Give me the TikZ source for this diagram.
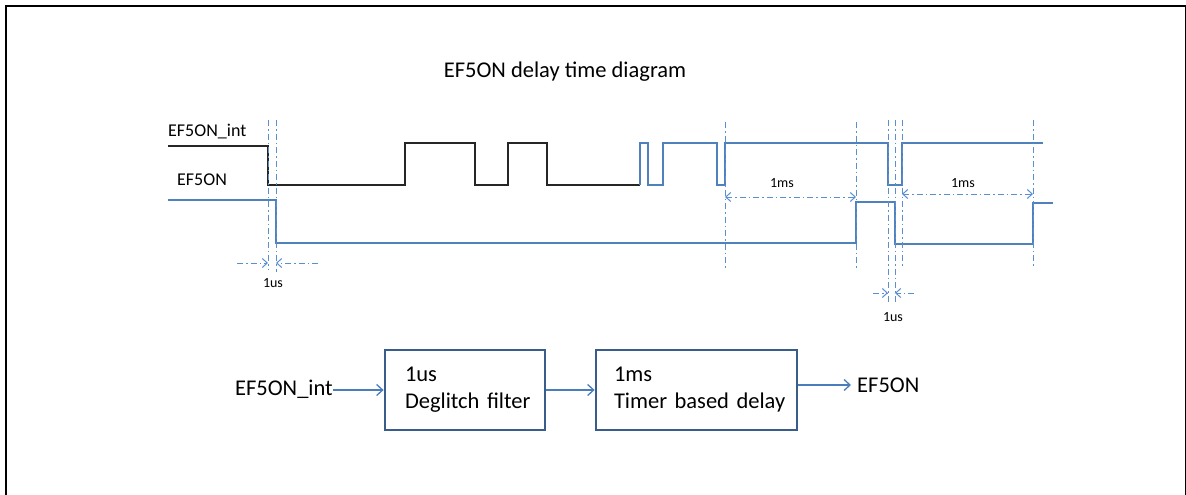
\documentclass[tikz,border=0pt]{standalone}
\usepackage{fontspec}
\setmainfont{Carlito}
\usetikzlibrary{arrows.meta}
\definecolor{sig}{HTML}{4F81BD}
\definecolor{guide}{HTML}{5B8FD0}
\definecolor{boxc}{HTML}{385D8A}
\definecolor{arrc}{HTML}{4A7EBB}
\begin{document}
\begin{tikzpicture}[x=1pt,y=-1pt,
  frameline/.style={line width=2.4pt,black},
  sigblack/.style={line width=1.5pt,black!85},
  sigblue/.style={line width=1.5pt,sig},
  guideline/.style={line width=1pt,guide,dash pattern=on 6pt off 3pt on 1.5pt off 3pt},
  guidearrow/.style={guideline,-{Straight Barb[length=5pt,width=9pt,line width=1pt]}},
  guidearrows/.style={guideline,{Straight Barb[length=5pt,width=9pt,line width=1pt]}-{Straight Barb[length=5pt,width=9pt,line width=1pt]}},
  siglabel/.style={font=\fontsize{18}{21}\selectfont,inner sep=0pt},
  smalllabel/.style={font=\fontsize{14}{16}\selectfont,inner sep=0pt},
  blk/.style={draw=boxc,line width=2.8pt,minimum height=80pt,align=left,
    font=\fontsize{22.5}{27}\selectfont,inner ysep=0pt},
  blktext/.style={font=\fontsize{22.5}{27}\selectfont,inner sep=0pt},
  blkarrow/.style={arrc,line width=1.3pt,-{Straight Barb[length=6pt,width=11pt,line width=1.3pt]}}
]
\useasboundingbox (0,0) rectangle (1186,495);
\fill[white] (0,0) rectangle (1186,495);
% frame
\draw[frameline] (6,495) -- (6,6) -- (1186,6);
\draw[line width=1pt,black] (1185.5,6) -- (1185.5,495);

% title
\node[font=\fontsize{22.5}{27}\selectfont,inner sep=0pt] (title) at (565,72) {EF5ON delay time diagram};

% signal labels
\node[siglabel,anchor=base west] (lint) at (168,136) {EF5ON\_int};
\node[siglabel,anchor=base west] (lon) at (177,185) {EF5ON};

% EF5ON_int
\draw[sigblack] (168,146) -- (268,146) -- (268,185) -- (405,185) -- (405,143) -- (475,143) -- (475,185)
  -- (508,185) -- (508,143) -- (547,143) -- (547,185) -- (640,185);
\draw[sigblue] (640,185) -- (640,143) -- (648,143) -- (648,185) -- (663,185) -- (663,143) -- (717,143)
  -- (717,185) -- (725,185) -- (725,143) -- (888,143) -- (888,185) -- (902,185) -- (902,143) -- (1043,143);

% EF5ON
\draw[sigblue] (168,200) -- (276,200) -- (276,243) -- (856,243) -- (856,202) -- (895,202) -- (895,244)
  -- (1033,244) -- (1033,203) -- (1053,203);

% guide lines
\coordinate (g1t) at (268,120); \coordinate (g1b) at (268,270);
\coordinate (g2t) at (276,120); \coordinate (g2b) at (276,272);
\coordinate (g3t) at (725,122); \coordinate (g3b) at (725,270);
\coordinate (g4t) at (856,122); \coordinate (g4b) at (856,270);
\coordinate (g5t) at (888,120); \coordinate (g5b) at (888,304);
\coordinate (g6t) at (895,120); \coordinate (g6b) at (895,304);
\coordinate (g7t) at (902,120); \coordinate (g7b) at (902,268);
\coordinate (g8t) at (1033,120); \coordinate (g8b) at (1033,268);
\foreach \i in {1,...,8} {\draw[guideline] (g\i t) -- (g\i b);}

% 1us (first)
\coordinate (a1s) at (237,263); \coordinate (a1e) at (268,263);
\coordinate (a2s) at (318,263); \coordinate (a2e) at (276,263);
\draw[guidearrow] (a1s) -- (a1e);
\draw[guidearrow] (a2s) -- (a2e);
\node[smalllabel] (us1) at (273,283) {1us};

% 1ms (first)
\coordinate (m1a) at (725,197); \coordinate (m1b) at (856,197);
\draw[guidearrows] (m1a) -- (m1b);
\node[smalllabel] (ms1) at (782,183) {1ms};

% 1ms (second)
\coordinate (m2a) at (902,194); \coordinate (m2b) at (1033,194);
\draw[guidearrows] (m2a) -- (m2b);
\node[smalllabel] (ms2) at (963,183) {1ms};

% 1us (second)
\coordinate (a3s) at (873,293); \coordinate (a3e) at (888,293);
\coordinate (a4s) at (914,293); \coordinate (a4e) at (895,293);
\draw[guidearrow] (a3s) -- (a3e);
\draw[guidearrow] (a4s) -- (a4e);
\node[smalllabel] (us2) at (893,317) {1us};

% block diagram
\node[blk,minimum width=160pt,text width=134pt,inner xsep=13pt] (b1) at (465,390) {\hspace*{7pt}1us\\\hspace*{7pt}Deglitch filter};
\node[blk,minimum width=201pt,text width=185pt,inner xsep=8pt] (b2) at (696.5,390) {\hspace*{10pt}1ms\\\hspace*{10pt}Timer based delay};
\node[blktext,anchor=east] (in) at (333,389) {EF5ON\_int};
\node[blktext,anchor=west] (out) at (857,385) {EF5ON};
\draw[blkarrow] (in.east |- b1.west) -- (b1.west);
\draw[blkarrow] (b1.east) -- (b2.west);
\draw[blkarrow] (b2.east |- out.west) -- ([xshift=-6pt]out.west);
\end{tikzpicture}
\end{document}
